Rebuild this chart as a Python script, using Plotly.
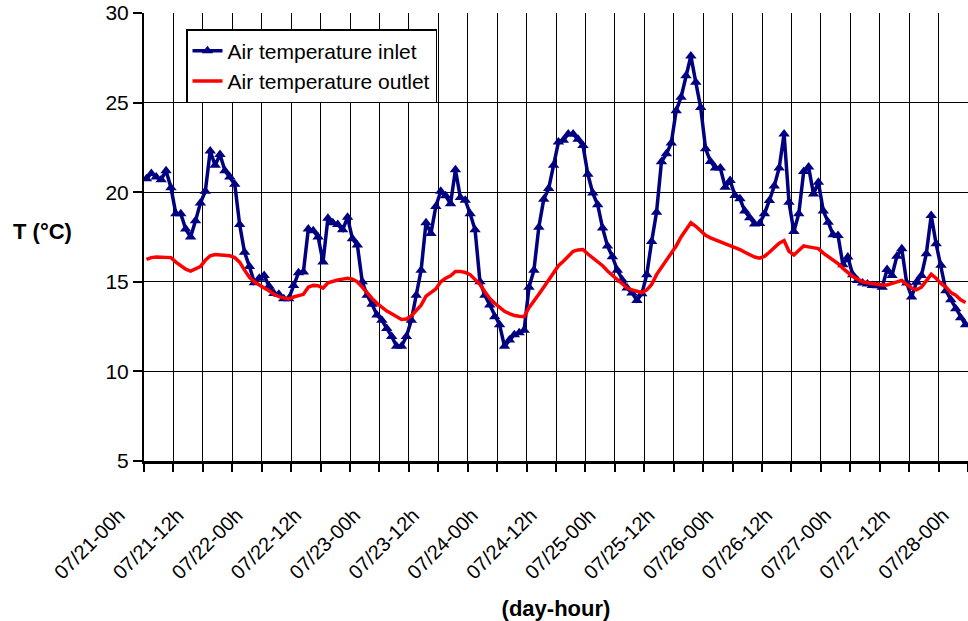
import plotly.graph_objects as go

# ---------------- data ----------------
tick_labels = ["07/21-00h", "07/21-12h", "07/22-00h", "07/22-12h", "07/23-00h",
               "07/23-12h", "07/24-00h", "07/24-12h", "07/25-00h", "07/25-12h",
               "07/26-00h", "07/26-12h", "07/27-00h", "07/27-12h", "07/28-00h"]

# hourly air temperature at the inlet (°C)
inlet = [20.75, 21.05, 20.85, 20.7, 21.2, 20.25, 18.8, 18.8, 17.95, 17.5,
         18.4, 19.4, 20.05, 22.3, 21.5, 22.1, 21.2, 20.85, 20.45, 18.2,
         16.65, 15.85, 14.95, 15.2, 15.35, 14.75, 14.35, 14.3, 14.05, 14.05,
         14.8, 15.5, 15.55, 17.95, 17.85, 17.5, 16.1, 18.55, 18.3, 18.2,
         17.9, 18.6, 17.4, 17.05, 15.0, 14.25, 13.75, 13.15, 12.85, 12.4,
         11.95, 11.4, 11.4, 11.95, 12.85, 14.25, 15.65, 18.3, 17.7, 19.2,
         20.05, 19.8, 19.35, 21.25, 19.7, 19.55, 18.8, 17.9, 15.0, 14.25,
         13.7, 13.05, 12.6, 11.4, 11.75, 12.05, 12.15, 12.3, 14.7, 15.65,
         18.05, 19.6, 20.2, 21.5, 22.8, 22.9, 23.25, 23.25, 22.95, 22.6,
         21.0, 19.95, 19.3, 18.0, 17.0, 16.4, 15.65, 15.1, 14.65, 14.38,
         13.96, 14.33, 15.4, 17.25, 18.88, 21.7, 22.14, 22.75, 24.55, 25.3,
         26.5, 27.6, 26.13, 24.73, 22.42, 21.72, 21.35, 21.35, 20.28, 20.65,
         19.81, 19.63, 18.95, 18.58, 18.23, 18.25, 18.8, 19.54, 20.35, 21.35,
         23.25, 19.44, 17.8, 18.8, 21.15, 21.4, 19.9, 20.56, 18.95, 18.33,
         17.62, 17.58, 15.95, 16.38, 15.4, 15.07, 14.94, 14.88, 14.8, 14.78,
         14.7, 15.68, 15.35, 16.42, 16.84, 14.94, 14.15, 14.98, 15.35, 16.56,
         18.7, 17.12, 15.92, 14.5, 14.0, 13.5, 13.0, 12.6]

# hourly air temperature at the outlet (°C)
outlet = [16.25, 16.35, 16.38, 16.38, 16.38, 16.35, 16.1, 15.9, 15.7, 15.6,
          15.7, 15.85, 16.2, 16.45, 16.52, 16.5, 16.45, 16.45, 16.35, 16.1,
          15.65, 15.25, 15.0, 14.8, 14.65, 14.5, 14.3, 14.17, 14.08, 14.04,
          14.15, 14.25, 14.3, 14.7, 14.8, 14.78, 14.65, 14.95, 15.04, 15.1,
          15.15, 15.2, 15.15, 15.0, 14.7, 14.35, 14.07, 13.8, 13.56, 13.37,
          13.22, 13.05, 12.9, 12.92, 13.1, 13.4, 13.7, 14.2, 14.4, 14.6,
          15.0, 15.2, 15.33, 15.58, 15.58, 15.52, 15.4, 15.15, 14.85, 14.45,
          14.07, 13.8, 13.55, 13.35, 13.22, 13.12, 13.08, 13.05, 13.55, 13.9,
          14.3, 14.7, 15.1, 15.5, 15.9, 16.15, 16.45, 16.7, 16.78, 16.8,
          16.55, 16.35, 16.1, 15.9, 15.6, 15.35, 15.1, 14.9, 14.65, 14.55,
          14.45, 14.4, 14.55, 14.85, 15.4, 15.8, 16.2, 16.6, 17.0, 17.5,
          17.9, 18.3, 18.1, 17.85, 17.6, 17.45, 17.35, 17.25, 17.15, 17.05,
          16.95, 16.8, 16.65, 16.5, 16.38, 16.32, 16.42, 16.65, 16.9, 17.15,
          17.3, 16.7, 16.5, 16.75, 17.0, 16.95, 16.9, 16.85, 16.6, 16.4,
          16.2, 16.02, 15.75, 15.5, 15.3, 15.15, 15.0, 14.95, 14.9, 14.85,
          14.82, 14.82, 14.9, 15.0, 15.08, 14.85, 14.65, 14.55, 14.7, 15.05,
          15.42, 15.2, 14.9, 14.7, 14.4, 14.25, 14.0, 13.85]

# ---------------- geometry ----------------
W, H = 968, 621
AXIS_PX = 144            # x pixel of the y axis
TOP_PX, BOTTOM_PX = 13, 461
n = len(inlet)
hours = [i + 0.5 for i in range(n)]   # each hourly value centred in its slot
x_end = 168
step = 6
px_per_h = (W - AXIS_PX) / x_end

tickvals = list(range(0, x_end + 1, step))
ticktext = [tick_labels[k // 2] if k % 2 == 0 else "" for k in range(len(tickvals))]

FONT = "Liberation Sans, Arial, Helvetica, sans-serif"

fig = go.Figure()
fig.add_trace(go.Scatter(
    x=hours, y=inlet, mode="lines+markers", name="Air temperature inlet",
    line=dict(color="#000080", width=3.5),
    marker=dict(symbol="triangle-up", size=10, color="#000080"),
))
fig.add_trace(go.Scatter(
    x=hours, y=outlet, mode="lines", name="Air temperature outlet",
    line=dict(color="#FF0000", width=3.5),
))

fig.update_layout(
    width=W, height=H,
    margin=dict(l=0, r=0, t=TOP_PX, b=H - BOTTOM_PX, autoexpand=False),
    paper_bgcolor="white", plot_bgcolor="white",
    font=dict(family=FONT, color="black", size=21),
    xaxis=dict(
        domain=[AXIS_PX / W, 1], range=[0, x_end],
        tickmode="array", tickvals=tickvals, ticktext=ticktext,
        tickangle=-45, tickfont=dict(size=20),
        ticklabelshift=int(round(-step * px_per_h)) + 4, ticklabelstandoff=24,
        showgrid=True, gridcolor="black", gridwidth=1.2,
        showline=True, linecolor="black", linewidth=2.5,
        ticks="outside", ticklen=8, tickwidth=1.5, tickcolor="black",
        zeroline=False, automargin=False,
        title=dict(text="<b>(day-hour)</b>", font=dict(size=22), standoff=22),
    ),
    yaxis=dict(
        range=[5, 30], tick0=5, dtick=5,
        showgrid=True, gridcolor="black", gridwidth=1.2,
        showline=True, linecolor="black", linewidth=2,
        ticks="outside", ticklen=9, tickwidth=1.5, tickcolor="black",
        tickfont=dict(size=21), zeroline=False, automargin=False,
    ),
    legend=dict(
        x=186 / W, xanchor="left",
        y=(BOTTOM_PX - 29) / (BOTTOM_PX - TOP_PX), yanchor="top",
        bgcolor="white", bordercolor="black", borderwidth=1.5,
        font=dict(size=21), tracegroupgap=0,
    ),
    annotations=[dict(
        text="<b>T (°C)</b>", xref="paper", yref="paper",
        x=42 / W, y=(BOTTOM_PX - 231) / (BOTTOM_PX - TOP_PX),
        xanchor="center", yanchor="middle", showarrow=False,
        font=dict(size=22),
    )],
    showlegend=True,
)

fig.write_html("out.html")
